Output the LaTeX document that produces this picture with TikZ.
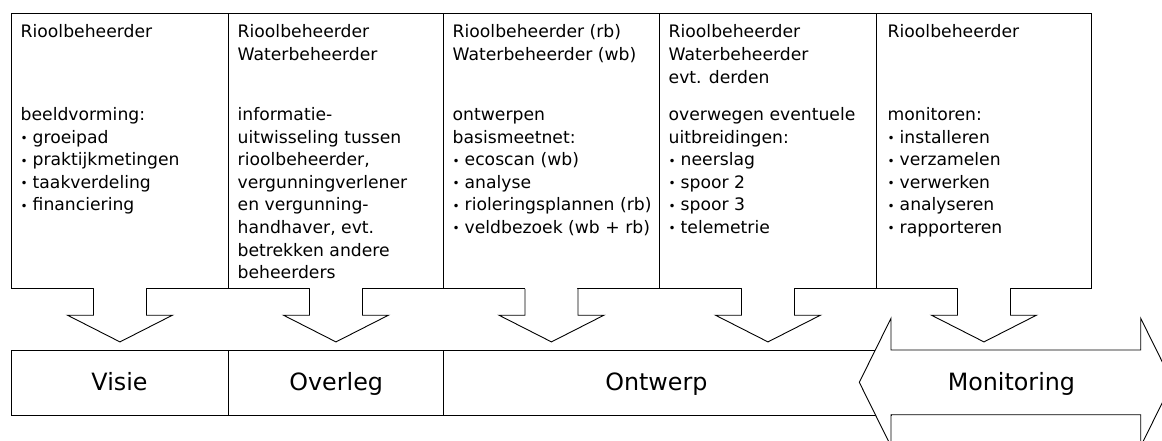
\documentclass[tikz,border=0pt]{standalone}
\usepackage{fontspec}
\setmainfont{DejaVu Sans}
\usetikzlibrary{calc}
\newcommand\bt{\makebox[12pt][l]{\raisebox{0.6pt}{\fontsize{12}{12}\selectfont •}}}
\newcommand\toplines[1]{\begin{tabular}[t]{@{}l@{}}#1\end{tabular}}
\newcommand\downarrowblock[1]{%
  \fill[white] ($(#1.south)+(-26,-1.5)$) rectangle ($(#1.south)+(26,1)$);
  \draw[blockarrow] ($(#1.south)+(-26.5,0)$) -- ($(#1.south)+(-26.5,26.3)$)
    -- ($(#1.south)+(-52.5,26.3)$) -- ($(#1.south)+(0,53)$)
    -- ($(#1.south)+(52.5,26.3)$) -- ($(#1.south)+(26.5,26.3)$)
    -- ($(#1.south)+(26.5,0)$);}
\tikzset{
  colbox/.style={draw, line width=0.9pt, minimum height=275pt, inner sep=0pt, anchor=north west},
  phasebox/.style={draw, line width=0.9pt, minimum height=64.7pt, inner sep=0pt, anchor=north west},
  txt/.style={anchor=base west, inner sep=0pt, font=\fontsize{17.2}{22.6}\selectfont},
  phase/.style={anchor=base, inner sep=0pt, font=\fontsize{23.8}{26}\selectfont},
  blockarrow/.style={draw, line width=0.9pt, fill=white, line join=miter},
}
\begin{document}
\begin{tikzpicture}[x=1pt,y=-1pt]
\clip (0,0) rectangle (1162,441);
\fill[white] (0,0) rectangle (1162,441);
% top column boxes
\node[colbox, minimum width=217pt] (c1) at (11,13) {};
\node[colbox, minimum width=215pt] (c2) at (228,13) {};
\node[colbox, minimum width=216pt] (c3) at (443,13) {};
\node[colbox, minimum width=217pt] (c4) at (659,13) {};
\node[colbox, minimum width=215pt] (c5) at (876,13) {};
% headers
\node[txt] (h1) at (20.5,38) {\toplines{Rioolbeheerder}};
\node[txt] (h2) at (237.5,38) {\toplines{Rioolbeheerder\\Waterbeheerder}};
\node[txt] (h3) at (452.5,38) {\toplines{Rioolbeheerder (rb)\\Waterbeheerder (wb)}};
\node[txt] (h4) at (668.5,38) {\toplines{Rioolbeheerder\\Waterbeheerder\\evt. derden}};
\node[txt] (h5) at (887.5,38) {\toplines{Rioolbeheerder}};
% bodies
\node[txt] (b1) at (20.5,120.5) {\toplines{beeldvorming:\\ \bt groeipad\\ \bt praktijkmetingen\\ \bt taakverdeling\\ \bt financiering}};
\node[txt] (b2) at (237.5,120.5) {\toplines{informatie-\\uitwisseling tussen\\rioolbeheerder,\\vergunningverlener\\en vergunning-\\handhaver, evt.\\betrekken andere\\beheerders}};
\node[txt] (b3) at (452.5,120.5) {\toplines{ontwerpen\\basismeetnet:\\ \bt ecoscan (wb)\\ \bt analyse\\ \bt rioleringsplannen (rb)\\ \bt veldbezoek (wb + rb)}};
\node[txt] (b4) at (668.5,120.5) {\toplines{overwegen eventuele\\uitbreidingen:\\ \bt neerslag\\ \bt spoor 2\\ \bt spoor 3\\ \bt telemetrie}};
\node[txt] (b5) at (887.5,120.5) {\toplines{monitoren:\\ \bt installeren\\ \bt verzamelen\\ \bt verwerken\\ \bt analyseren\\ \bt rapporteren}};
% down arrows
\downarrowblock{c1}
\downarrowblock{c2}
\downarrowblock{c3}
\downarrowblock{c4}
\downarrowblock{c5}
% bottom bar
\node[phasebox, minimum width=217pt] (p1) at (11,350) {};
\node[phasebox, minimum width=215pt] (p2) at (228,350) {};
\node[phasebox, minimum width=448pt] (p3) at (443,350) {};
\draw[blockarrow] (859.3,382.3) -- (891,318.3) -- (891,350) -- (1140.7,350)
  -- (1140.7,318.3) -- (1172.4,382.3) -- (1140.7,446.3) -- (1140.7,414.7)
  -- (891,414.7) -- (891,446.3) -- cycle;
\node[phase] (l1) at (119.5,390.7) {Visie};
\node[phase] (l2) at (336.2,390.7) {Overleg};
\node[phase] (l3) at (656.4,390.7) {Ontwerp};
\node[phase] (l4) at (1011.4,390.7) {Monitoring};
\end{tikzpicture}
\end{document}
